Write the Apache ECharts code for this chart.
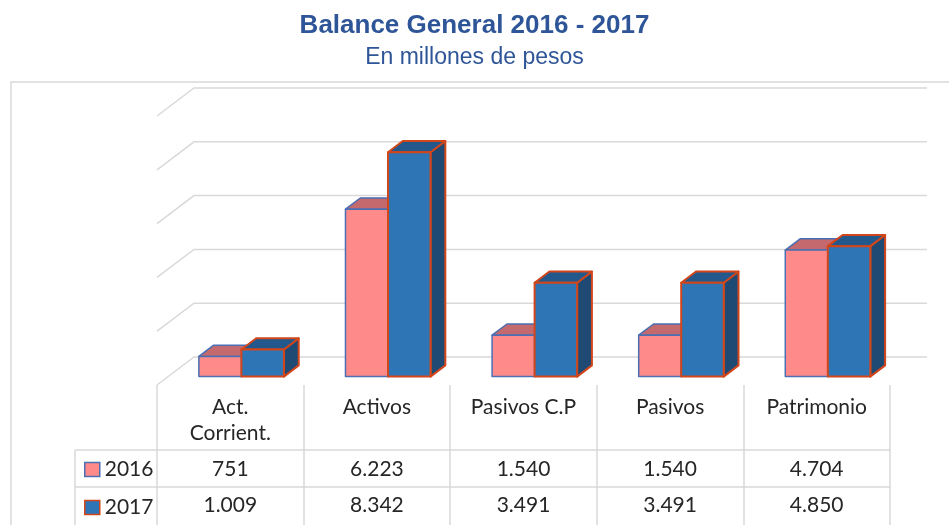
<!DOCTYPE html>
<html>
<head>
<meta charset="UTF-8">
<title>Balance General 2016 - 2017</title>
<script src="https://cdn.jsdelivr.net/npm/echarts@6/dist/echarts.min.js"></script>
<style>
  html, body { margin: 0; padding: 0; background: #fff; }
  #main { width: 949px; height: 525px; }
</style>
</head>
<body>
<div id="main"></div>
<script type="text/javascript">
// datos del gráfico
var categorias = ['Act.\nCorrient.', 'Activos', 'Pasivos C.P', 'Pasivos', 'Patrimonio'];
var valores2016 = [751, 6223, 1540, 1540, 4704];
var valores2017 = [1009, 8342, 3491, 3491, 4850];
var lineasY = [0, 2000, 4000, 6000, 8000, 10000];

var fuente = 'Lato';
var gris = '#D9D9D9';
// profundidad 3D (pixeles del fondo respecto al frente)
var profX = 37, profY = 28;

function fmt(v) {
    return String(v).replace(/\B(?=(\d{3})+(?!\d))/g, '.');
}

var colores = [
    { frente: '#FF8A8A', arriba: '#C4696D', lado: '#B85C60', borde: '#4A6FB3', ancho: 1.5 },
    { frente: '#2E75B6', arriba: '#22588C', lado: '#1F4A74', borde: '#D2461B', ancho: 2 }
];

function barra3d(serie) {
    return function (params, api) {
        var i = api.value(0), v = api.value(1);
        var base = api.coord([i, 0]);
        var tope = api.coord([i, v]);
        var anchoCat = api.size([1, 0])[0];
        var w = anchoCat * 0.29;
        var x0 = serie === 0 ? base[0] - w : base[0];
        var fx = profX * 0.3, fy = -profY * 0.3;
        var bx = profX * 0.7, by = -profY * 0.7;
        var c = colores[serie];
        var est = function (fill) {
            return { fill: fill, stroke: c.borde, lineWidth: c.ancho, lineJoin: 'round' };
        };
        return {
            type: 'group',
            children: [
                { type: 'polygon', shape: { points: [
                    [x0 + w + fx, tope[1] + fy], [x0 + w + bx, tope[1] + by],
                    [x0 + w + bx, base[1] + by], [x0 + w + fx, base[1] + fy]] }, style: est(c.lado) },
                { type: 'polygon', shape: { points: [
                    [x0 + fx, tope[1] + fy], [x0 + w + fx, tope[1] + fy],
                    [x0 + w + bx, tope[1] + by], [x0 + bx, tope[1] + by]] }, style: est(c.arriba) },
                { type: 'rect', shape: { x: x0 + fx, y: tope[1] + fy, width: w, height: base[1] - tope[1] }, style: est(c.frente) }
            ]
        };
    };
}

var myChart = echarts.init(document.getElementById('main'));

var option = {
    animation: false,
    title: {
        text: 'Balance General 2016 - 2017',
        subtext: 'En millones de pesos',
        left: 'center',
        top: 8,
        itemGap: 7,
        textStyle: { fontFamily: 'Liberation Sans', fontWeight: 'bold', fontSize: 26, color: '#2E5597' },
        subtextStyle: { fontFamily: 'Liberation Sans', fontSize: 23, color: '#2E5597' }
    },
    legend: {
        orient: 'vertical',
        left: 84,
        top: 459,
        padding: 0,
        itemWidth: 15,
        itemHeight: 14,
        itemGap: 17,
        selectedMode: false,
        textStyle: { fontFamily: fuente, fontSize: 21, color: '#262626', padding: [0, 0, 0, 0] },
        data: [
            { name: '2016', icon: 'rect', itemStyle: { color: colores[0].frente, borderColor: colores[0].borde, borderWidth: 1.5 } },
            { name: '2017', icon: 'rect', itemStyle: { color: colores[1].frente, borderColor: colores[1].borde, borderWidth: 1.5 } }
        ]
    },
    graphic: [
        { type: 'rect', shape: { x: 11, y: 82, width: 980, height: 500 }, style: { fill: 'none', stroke: gris, lineWidth: 1.5 }, silent: true },
        { type: 'line', shape: { x1: 75, y1: 450, x2: 158, y2: 450 }, style: { stroke: gris, lineWidth: 1.5 }, silent: true },
        { type: 'line', shape: { x1: 75, y1: 487, x2: 158, y2: 487 }, style: { stroke: gris, lineWidth: 1.5 }, silent: true },
        { type: 'line', shape: { x1: 75, y1: 450, x2: 75, y2: 530 }, style: { stroke: gris, lineWidth: 1.5 }, silent: true }
    ],
    grid: { left: 157, right: 59, top: 116, bottom: 140 },
    xAxis: [
        {
            type: 'category',
            data: categorias,
            axisLine: { show: false },
            axisTick: { show: true, length: 145, lineStyle: { color: gris, width: 1.5 } },
            axisLabel: { margin: 9, verticalAlign: 'top', lineHeight: 26, fontFamily: fuente, fontSize: 21, color: '#262626', interval: 0 },
            splitLine: { show: false }
        },
        {
            type: 'category',
            data: categorias,
            position: 'bottom',
            offset: 65,
            axisLine: { show: true, lineStyle: { color: gris, width: 1.5 } },
            axisTick: { show: false },
            axisLabel: { margin: 9, verticalAlign: 'top', fontFamily: fuente, fontSize: 21, color: '#262626', interval: 0,
                formatter: function (val, idx) { return fmt(valores2016[idx]); } }
        },
        {
            type: 'category',
            data: categorias,
            position: 'bottom',
            offset: 102,
            axisLine: { show: true, lineStyle: { color: gris, width: 1.5 } },
            axisTick: { show: false },
            axisLabel: { margin: 8, verticalAlign: 'top', fontFamily: fuente, fontSize: 21, color: '#262626', interval: 0,
                formatter: function (val, idx) { return fmt(valores2017[idx]); } }
        }
    ],
    yAxis: {
        type: 'value',
        min: 0,
        max: 10000,
        interval: 2000,
        show: false
    },
    series: [
        {
            // lineas de fondo (pared y piso)
            type: 'custom',
            silent: true,
            z: 1,
            data: lineasY.map(function (v) { return [0, v]; }),
            encode: { x: 0, y: 1 },
            renderItem: function (params, api) {
                var v = api.value(1);
                var anchoCat = api.size([1, 0])[0];
                var izq = api.coord([0, v]);
                var der = api.coord([categorias.length - 1, v]);
                var x1 = izq[0] - anchoCat / 2, x2 = der[0] + anchoCat / 2;
                return {
                    type: 'polyline',
                    shape: { points: [[x1, izq[1]], [x1 + profX, izq[1] - profY], [x2 + profX, izq[1] - profY]] },
                    style: { fill: 'none', stroke: gris, lineWidth: 1.5 }
                };
            }
        },
        {
            name: '2016',
            type: 'custom',
            z: 2,
            itemStyle: { color: colores[0].frente },
            data: valores2016.map(function (v, i) { return [i, v]; }),
            encode: { x: 0, y: 1 },
            renderItem: barra3d(0)
        },
        {
            name: '2017',
            type: 'custom',
            z: 3,
            itemStyle: { color: colores[1].frente },
            data: valores2017.map(function (v, i) { return [i, v]; }),
            encode: { x: 0, y: 1 },
            renderItem: barra3d(1)
        }
    ]
};

myChart.setOption(option);
</script>
</body>
</html>
